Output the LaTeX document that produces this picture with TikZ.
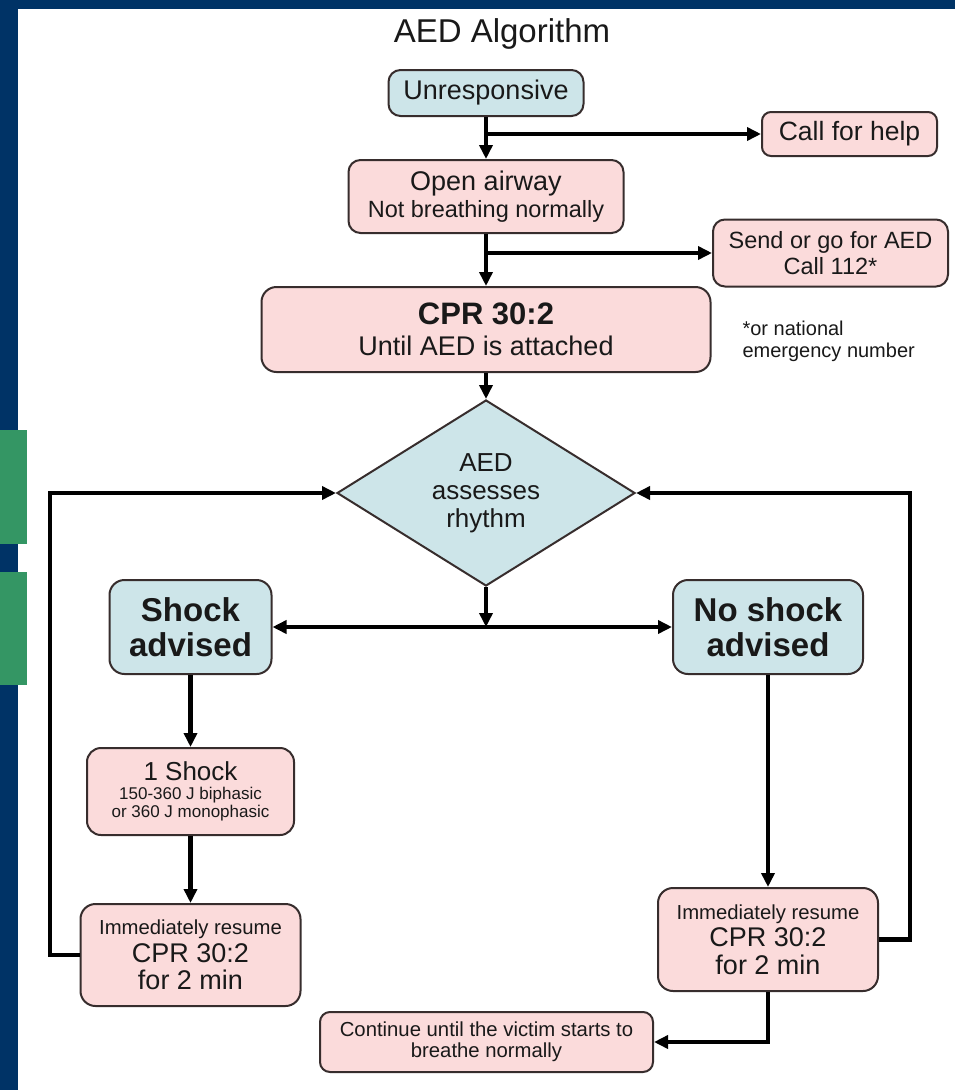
\documentclass[tikz,border=0pt]{standalone}
\usepackage{fontspec}
\setmainfont{Liberation Sans}
\usetikzlibrary{arrows.meta,shapes.geometric}
\definecolor{slideblue}{RGB}{0,51,102}
\definecolor{slidegreen}{RGB}{52,150,100}
\definecolor{pinkfill}{RGB}{251,219,219}
\definecolor{bluefill}{RGB}{205,229,233}
\definecolor{edgecol}{RGB}{55,45,45}
\definecolor{txt}{RGB}{25,25,25}
\newcommand{\fs}[1]{\fontsize{#1}{1.2\dimexpr#1pt\relax}\selectfont}
\tikzset{
  x=1pt,y=-1pt,
  box/.style={draw=edgecol,line width=2pt,rounded corners=12pt,align=center,text=txt,inner sep=0pt},
  pinkbox/.style={box,fill=pinkfill},
  bluebox/.style={box,fill=bluefill},
  arr/.style={line width=4.5pt,-{Triangle[length=14pt,width=13pt]}},
  link/.style={line width=4.5pt},
}
\begin{document}
\begin{tikzpicture}
\useasboundingbox (0,0) rectangle (955,1090);
\fill[slideblue] (0,0) rectangle (955,1090);
\fill[white] (18,9) rectangle (955,1090);
\fill[slidegreen] (0,430) rectangle (27,544);
\fill[slidegreen] (0,572) rectangle (27,685);

\node[text=txt,font=\fs{33}] (title) at (502,34) {AED Algorithm};

\node[bluebox,minimum width=195,minimum height=46,font=\fs{27}] (unresp) at (486,93) {Unresponsive};
\node[pinkbox,minimum width=175,minimum height=44,rounded corners=9pt,font=\fs{26.5}] (help) at (849.5,134) {Call for help};
\node[pinkbox,minimum width=275,minimum height=73,font=\fs{23.5}] (airway) at (486,196.5) {{\fs{27}Open airway}\\[-1pt]Not breathing normally};
\node[pinkbox,minimum width=235,minimum height=67,font=\fs{23.5}] (aed) at (830.5,253) {Send or go for AED\\[-3pt]Call 112*};
\node[pinkbox,minimum width=449,minimum height=85,rounded corners=15pt,font=\fs{27}] (cpr) at (486,329.5) {{\bfseries\fs{31}CPR 30:2}\\[-2pt]Until AED is attached};
\node[anchor=west,align=left,text=txt,font=\fs{20}] (note) at (739,341) {*or national\\[-2pt]emergency number};

\node[diamond,draw=edgecol,line width=2pt,fill=bluefill,shape aspect=1.6,minimum width=298,minimum height=186,inner sep=0pt,align=center,text=txt,font=\fs{26}] (dia) at (486,493) {AED\\[-3pt]assesses\\[-3pt]rhythm};

\node[bluebox,minimum width=162,minimum height=94,rounded corners=15pt,font=\bfseries\fs{33}] (shock) at (190.5,627) {Shock\\[-5pt]advised};
\node[bluebox,minimum width=190,minimum height=94,rounded corners=15pt,font=\bfseries\fs{33}] (noshock) at (768,627) {No shock\\[-5pt]advised};

\node[pinkbox,minimum width=207,minimum height=87,rounded corners=14pt,font=\fs{17}] (oneshock) at (190.5,791.5) {{\fs{26}1 Shock}\\[-2pt]150-360 J biphasic\\[-2pt]or 360 J monophasic};
\node[pinkbox,minimum width=220,minimum height=102,rounded corners=15pt,font=\fs{27}] (imml) at (190.5,955) {{\fs{20.3}Immediately resume}\\[-5pt]CPR 30:2\\[-5pt]for 2 min};
\node[pinkbox,minimum width=220,minimum height=103,rounded corners=15pt,font=\fs{27}] (immr) at (768,939.5) {{\fs{20.3}Immediately resume}\\[-5pt]CPR 30:2\\[-5pt]for 2 min};
\node[pinkbox,minimum width=333,minimum height=60,rounded corners=10pt,font=\fs{20.3}] (cont) at (486.5,1042) {Continue until the victim starts to\\[-3pt]breathe normally};

\coordinate (lc) at (50,0);
\coordinate (rc) at (910,0);
\coordinate (junc) at (486,627);

\draw[arr] (unresp.south) -- (airway.north);
\draw[arr] (unresp.south |- help.west) -- (help.west);
\draw[arr] (airway.south) -- (cpr.north);
\draw[arr] (airway.south |- aed.west) -- (aed.west);
\draw[arr] (cpr.south) -- (dia.north);
\draw[arr] (dia.south) -- (junc);
\draw[link,{Triangle[length=14pt,width=13pt]}-{Triangle[length=14pt,width=13pt]}] (shock.east) -- (noshock.west);
\draw[arr] (shock.south) -- (oneshock.north);
\draw[arr] (oneshock.south) -- (imml.north);
\draw[arr] (imml.west) -- (imml.west -| lc) |- (dia.west);
\draw[arr] (noshock.south) -- (immr.north);
\draw[arr] (immr.east) -- (immr.east -| rc) |- (dia.east);
\draw[arr] (immr.south) |- (cont.east);
\end{tikzpicture}
\end{document}
